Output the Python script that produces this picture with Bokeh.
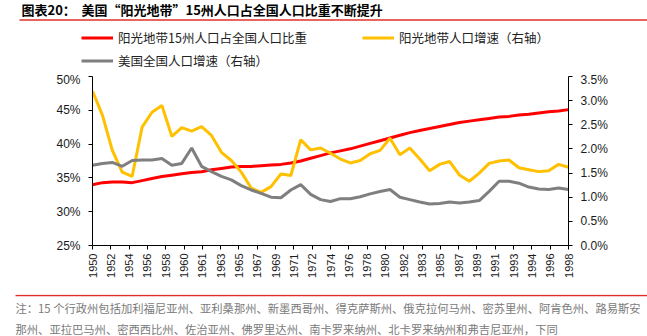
import math
from bokeh.plotting import figure
from bokeh.models import (Range1d, LinearAxis, FixedTicker, PrintfTickFormatter,
                          Legend, LegendItem)
from bokeh.layouts import column
from bokeh.embed import file_html
from bokeh.resources import INLINE
from bokeh.core.properties import value

# ---------------- data ----------------
years = list(range(1950, 1999))

# share of the 15 "Sun Belt" states in US population (%), left axis
share = [34.0, 34.3, 34.4, 34.4, 34.3, 34.6, 34.9, 35.2, 35.4, 35.6,
         35.8, 35.9, 36.2, 36.4, 36.6, 36.7, 36.7, 36.8, 36.9, 37.0,
         37.2, 37.5, 37.9, 38.3, 38.7, 39.0, 39.3, 39.7, 40.1, 40.5,
         40.9, 41.3, 41.7, 42.0, 42.3, 42.6, 42.9, 43.2, 43.4, 43.6,
         43.8, 44.0, 44.1, 44.3, 44.4, 44.6, 44.8, 44.9, 45.1]

# Sun Belt population growth (%), right axis
sunbelt_growth = [3.20, 2.70, 1.97, 1.52, 1.43, 2.45, 2.76, 2.90, 2.26, 2.44,
                  2.37, 2.46, 2.28, 1.93, 1.76, 1.52, 1.19, 1.10, 1.22, 1.48,
                  1.45, 2.19, 1.98, 2.02, 1.91, 1.79, 1.71, 1.76, 1.90, 1.97,
                  2.22, 1.88, 2.02, 1.79, 1.55, 1.68, 1.74, 1.46, 1.33, 1.50,
                  1.70, 1.75, 1.77, 1.61, 1.57, 1.53, 1.55, 1.68, 1.62]

# US population growth (%), right axis
us_growth = [1.66, 1.70, 1.72, 1.64, 1.76, 1.77, 1.77, 1.80, 1.66, 1.70,
             2.02, 1.64, 1.53, 1.43, 1.36, 1.24, 1.15, 1.08, 1.00, 0.99,
             1.15, 1.26, 1.06, 0.95, 0.91, 0.97, 0.97, 1.01, 1.07, 1.12,
             1.16, 1.00, 0.95, 0.90, 0.86, 0.87, 0.90, 0.88, 0.90, 0.93,
             1.12, 1.33, 1.33, 1.29, 1.21, 1.17, 1.16, 1.19, 1.16]

x_tick_labels = ["1950", "1952", "1954", "1956", "1958", "1960", "1961", "1963",
                 "1965", "1967", "1969", "1971", "1972", "1974", "1976", "1978",
                 "1980", "1982", "1983", "1985", "1987", "1989", "1991", "1993",
                 "1994", "1996", "1998"]
left_ticks = [25, 30, 35, 40, 45, 50]
right_ticks = [0.0, 0.5, 1.0, 1.5, 2.0, 2.5, 3.0, 3.5]

series_names = ["阳光地带15州人口占全国人口比重", "阳光地带人口增速（右轴）",
                "美国全国人口增速（右轴）"]
title_label = "图表20："
title_text = "美国“阳光地带”15州人口占全国人口比重不断提升"
note_lines = ["注：15 个行政州包括加利福尼亚州、亚利桑那州、新墨西哥州、得克萨斯州、俄克拉何马州、密苏里州、阿肯色州、路易斯安",
              "那州、亚拉巴马州、密西西比州、佐治亚州、佛罗里达州、南卡罗来纳州、北卡罗来纳州和弗吉尼亚州，下同"]

# ---------------- style ----------------
W = 647
CJK = "Noto Sans CJK SC"
LAT = "Liberation Sans"
RED = "#FF0000"
YEL = "#FFC000"
GRY = "#7F7F7F"
RULE = "#E0302A"
LW = 3


def no_align(fig):
    try:
        fig.frame_align = False
    except Exception:
        pass


def blank(height):
    f = figure(width=W, height=height, x_range=Range1d(0, W), y_range=Range1d(height, 0),
               output_backend="svg", toolbar_location=None, min_border=0,
               x_axis_location=None, y_axis_location=None)
    f.outline_line_color = None
    f.grid.visible = False
    no_align(f)
    return f


# ---------------- header: title, rule, legend ----------------
HH = 72
h = blank(HH)
h.text(x=[21], y=[9], text=[title_label], text_font=value(CJK), text_font_size="13px",
       text_font_style="bold", text_baseline="middle", text_color="#000000")
h.text(x=[81], y=[9], text=[title_text], text_font=value(CJK), text_font_size="13px",
       text_font_style="bold", text_baseline="middle", text_color="#000000")
h.segment(x0=[19], x1=[W], y0=[19.5], y1=[19.5], line_color=RULE, line_width=1.5)

# legend swatch renderers: same series and styles; they fall outside this
# header's ranges, so only their legend swatches are visible here
k1 = h.line(years, share, line_color=RED, line_width=LW)
k2 = h.line(years, sunbelt_growth, line_color=YEL, line_width=LW)
k3 = h.line(years, us_growth, line_color=GRY, line_width=LW)
legend = Legend(items=[LegendItem(label=series_names[0], renderers=[k1]),
                       LegendItem(label=series_names[1], renderers=[k2]),
                       LegendItem(label=series_names[2], renderers=[k3])],
                location=(81, 2.5), orientation="horizontal", ncols=2,
                glyph_width=32, glyph_height=17, label_height=17, label_width=240,
                label_standoff=5, spacing=4, padding=0, margin=0,
                border_line_color=None, background_fill_alpha=0,
                label_text_font=CJK, label_text_font_size="12.5px",
                label_text_color="#222222")
h.add_layout(legend, "center")

# ---------------- main chart ----------------
p = figure(width=W, height=222, x_range=Range1d(1950, 1998), y_range=Range1d(25, 50),
           output_backend="svg", toolbar_location=None,
           min_border_left=92, min_border_right=79, min_border_top=4, min_border_bottom=49,
           x_axis_location=None, y_axis_location="left")
p.outline_line_color = None
p.grid.visible = False
no_align(p)
p.extra_y_ranges = {"right": Range1d(0, 3.5)}
p.extra_x_ranges = {"lab": Range1d(0, len(x_tick_labels) - 1)}

p.line(years, share, line_color=RED, line_width=LW)
p.line(years, sunbelt_growth, line_color=YEL, line_width=LW, y_range_name="right")
p.line(years, us_growth, line_color=GRY, line_width=LW, y_range_name="right")


def style_axis(ax, size="12px", standoff=8):
    ax.axis_line_color = "#000000"
    ax.axis_line_width = 1
    ax.major_tick_line_color = "#000000"
    ax.major_tick_out = 4
    ax.major_tick_in = 0
    ax.minor_tick_line_color = None
    ax.major_label_text_font = LAT
    ax.major_label_text_font_size = size
    ax.major_label_text_color = "#1a1a1a"
    ax.major_label_standoff = standoff


ya = p.yaxis[0]
ya.ticker = FixedTicker(ticks=left_ticks)
ya.formatter = PrintfTickFormatter(format="%d%%")
style_axis(ya)

ra = LinearAxis(y_range_name="right", ticker=FixedTicker(ticks=right_ticks),
                formatter=PrintfTickFormatter(format="%.1f%%"))
style_axis(ra)
p.add_layout(ra, "right")

xa = LinearAxis(x_range_name="lab", ticker=FixedTicker(ticks=list(range(len(x_tick_labels)))),
                major_label_overrides={i: s for i, s in enumerate(x_tick_labels)},
                major_label_orientation=math.pi / 2)
style_axis(xa, size="11px", standoff=4)
p.add_layout(xa, "below")

# ---------------- footer ----------------
f = blank(42)
f.segment(x0=[15], x1=[W], y0=[1], y1=[1], line_color=RULE, line_width=1.5)
f.text(x=[15, 15], y=[13, 34], text=note_lines, text_font=value(CJK), text_font_size="11.3px",
       text_baseline="middle", text_color="#7a7a7a")

page = column(h, p, f, spacing=0)
open("out.html", "w").write(file_html(page, INLINE))
